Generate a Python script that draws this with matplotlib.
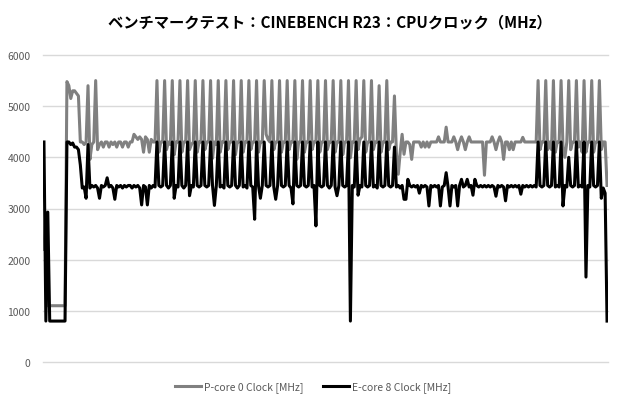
# Importamos matplotlib para crear la gráfica (sin pantalla)
import matplotlib
matplotlib.use('Agg')
import matplotlib.pyplot as plt
# Importamos numpy para las posiciones del eje X
import numpy as np

# Fuentes: primero la japonesa, luego DejaVu para lo que falte
plt.rcParams['font.family'] = ['Noto Sans CJK JP', 'DejaVu Sans']

# Textos de la gráfica
titulo = 'ベンチマークテスト：CINEBENCH R23：CPUクロック（MHz）'
nombre_p_core = 'P-core 0 Clock [MHz]'
nombre_e_core = 'E-core 8 Clock [MHz]'

# Marcas del eje Y (MHz)
marcas_y = [0, 1000, 2000, 3000, 4000, 5000, 6000]

# Reloj del P-core 0 (MHz), una muestra por punto
reloj_p_core = [
    2200, 2930, 1100, 1100, 1100, 1100, 1100, 1100, 1100, 1100,
    1100, 1100, 5480, 5400, 5150, 5300, 5300, 5250, 5200, 4300,
    4300, 4250, 4300, 5400, 3960, 4250, 4300, 5500, 4150, 4250,
    4300, 4200, 4300, 4300, 4200, 4300, 4250, 4300, 4200, 4300,
    4300, 4200, 4300, 4300, 4200, 4300, 4300, 4450, 4400, 4350,
    4400, 4350, 4100, 4400, 4350, 4100, 4350, 4300, 4300, 5500,
    4100, 4300, 4300, 5500, 4150, 4300, 4250, 5500, 4050, 4300,
    4300, 5500, 4100, 4300, 4300, 5500, 4150, 4250, 4300, 5500,
    4100, 4300, 4300, 5500, 4150, 4300, 4300, 5500, 3980, 4300,
    4250, 5500, 4100, 4300, 4300, 5500, 4150, 4300, 4300, 5500,
    4050, 4300, 4300, 5500, 4100, 4300, 4300, 5500, 4150, 4300,
    4300, 5500, 4100, 4300, 4300, 5500, 4450, 4350, 4300, 5500,
    4150, 4300, 4300, 5500, 4100, 4300, 4300, 5500, 4150, 4300,
    4300, 5500, 3960, 4300, 4300, 5500, 4100, 4300, 4300, 5500,
    4150, 4300, 4300, 5500, 4100, 4300, 4300, 5500, 4150, 4300,
    4300, 5500, 4100, 4300, 4300, 5500, 4050, 4300, 4300, 5500,
    3990, 4300, 4300, 5500, 4150, 4350, 4400, 5500, 4100, 4300,
    4300, 5500, 4150, 4300, 4300, 5400, 4100, 4300, 4300, 5500,
    4150, 4300, 4300, 5200, 4100, 3670, 4100, 4450, 4060, 4300,
    4300, 4250, 3960, 4300, 4300, 4300, 4300, 4200, 4300, 4200,
    4300, 4200, 4300, 4300, 4300, 4300, 4400, 4300, 4300, 4300,
    4590, 4300, 4300, 4300, 4400, 4300, 4150, 4300, 4400, 4300,
    4150, 4300, 4400, 4300, 4300, 4300, 4300, 4300, 4300, 4300,
    3650, 4300, 4300, 4300, 4400, 4300, 4150, 4300, 4400, 4300,
    3960, 4300, 4300, 4150, 4300, 4150, 4300, 4300, 4300, 4300,
    4390, 4300, 4300, 4300, 4300, 4300, 4300, 4300, 5500, 4150,
    4300, 4300, 5500, 4150, 4300, 4150, 5500, 4100, 4300, 4300,
    5500, 4200, 4000, 4300, 5500, 4150, 4300, 4300, 5500, 4200,
    4300, 4100, 5500, 4100, 4300, 4300, 5500, 4100, 4300, 4300,
    5500, 4150, 4300, 4300, 3450,
]

# Reloj del E-core 8 (MHz), una muestra por punto
reloj_e_core = [
    4300, 800, 2930, 800, 800, 800, 800, 800, 800, 800,
    800, 800, 4300, 4300, 4250, 4280, 4200, 4200, 4150, 3850,
    3400, 3420, 3200, 4250, 3400, 3450, 3420, 3450, 3400, 3200,
    3450, 3420, 3450, 3600, 3420, 3450, 3400, 3180, 3450, 3420,
    3450, 3400, 3450, 3420, 3450, 3450, 3400, 3450, 3420, 3450,
    3400, 3070, 3450, 3420, 3070, 3450, 3400, 3450, 3420, 4300,
    3450, 3420, 3450, 4300, 3450, 3400, 3450, 4300, 3200, 3450,
    3420, 4300, 3450, 3400, 3450, 4300, 3250, 3450, 3420, 4300,
    3450, 3420, 3450, 4300, 3450, 3420, 3450, 4300, 3450, 3060,
    3450, 4300, 3420, 3450, 3400, 4300, 3450, 3420, 3450, 4300,
    3450, 3400, 3450, 4300, 3420, 3450, 3400, 4300, 3450, 3420,
    2790, 4300, 3450, 3200, 3450, 4300, 3450, 3420, 3450, 4300,
    3420, 3180, 3450, 4300, 3450, 3420, 3450, 4300, 3450, 3400,
    3090, 4300, 3450, 3420, 3450, 4300, 3450, 3420, 3450, 4300,
    3420, 3450, 2660, 4300, 3450, 3420, 3450, 4300, 3450, 3400,
    3450, 4300, 3420, 3250, 3450, 4300, 3450, 3420, 3450, 4300,
    800, 3450, 3420, 4300, 3260, 3450, 3420, 4300, 3450, 3420,
    3450, 4300, 3420, 3450, 3400, 4300, 3450, 3420, 3450, 4300,
    3450, 3420, 3450, 4200, 3420, 3450, 3400, 3450, 3180, 3180,
    3570, 3450, 3420, 3450, 3420, 3450, 3300, 3450, 3420, 3450,
    3420, 3050, 3450, 3420, 3450, 3420, 3450, 3050, 3420, 3450,
    3700, 3420, 3050, 3450, 3420, 3450, 3050, 3450, 3570, 3420,
    3450, 3570, 3420, 3450, 3260, 3570, 3450, 3420, 3450, 3420,
    3450, 3420, 3450, 3420, 3450, 3420, 3240, 3450, 3420, 3450,
    3420, 3150, 3450, 3420, 3450, 3420, 3450, 3420, 3450, 3280,
    3450, 3420, 3450, 3420, 3450, 3420, 3450, 3420, 4300, 3450,
    3420, 3450, 4300, 3450, 3420, 3450, 4300, 3420, 3450, 3420,
    4300, 3050, 3450, 3420, 4000, 3450, 3420, 3450, 4300, 3420,
    3450, 3420, 4300, 1660, 3450, 3420, 4300, 3450, 3420, 3450,
    4300, 3200, 3400, 3300, 800,
]


def crear_grafica(archivo_salida):
    """
    Dibuja las dos series de reloj y guarda la imagen

    Args:
        archivo_salida (str): Ruta del PNG a guardar
    """
    # Figura de 620x410 píxeles
    fig = plt.figure(figsize=(6.2, 4.1), dpi=100)
    # Área de trazado colocada como en la referencia
    ax = fig.add_axes([43 / 620, 47 / 410, 565 / 620, 307 / 410])

    # Posiciones en el eje X (una por muestra)
    x = np.arange(len(reloj_p_core))

    # Primero la serie gris, luego la negra por encima
    ax.plot(x, reloj_p_core, color='#808080', linewidth=2.2,
            solid_joinstyle='round', label=nombre_p_core)
    ax.plot(x, reloj_e_core, color='#000000', linewidth=2.2,
            solid_joinstyle='round', label=nombre_e_core)

    # Límites y marcas de los ejes
    ax.set_xlim(-0.5, len(x) - 0.5)
    ax.set_ylim(0, 6000)
    ax.set_yticks(marcas_y)
    ax.set_xticks([])

    # Cuadrícula horizontal gris clara, detrás de las líneas
    ax.grid(axis='y', color='#d9d9d9', linewidth=1)
    ax.set_axisbelow(True)
    for linea in ax.get_ygridlines():
        linea.set_clip_on(False)

    # Sin bordes ni rayitas, estilo Excel
    for lado in ax.spines.values():
        lado.set_visible(False)
    ax.tick_params(axis='y', length=0, pad=9, labelsize=7.5, labelcolor='#595959')

    # Título arriba, centrado sobre el área de trazado
    fig.text(330 / 620, 1 - 22 / 410, titulo, ha='center', va='center',
             fontsize=11, fontweight='bold', color='#000000')

    # Leyenda abajo, en una fila
    fig.legend(loc='center', bbox_to_anchor=(313 / 620, 1 - 388 / 410), ncol=2,
               frameon=False, fontsize=7.5, handlelength=2.5, handletextpad=0.3,
               columnspacing=1.9, labelcolor='#595959')

    fig.savefig(archivo_salida, dpi=100)
    plt.close(fig)


# Punto de entrada
if __name__ == "__main__":
    crear_grafica('out.png')
